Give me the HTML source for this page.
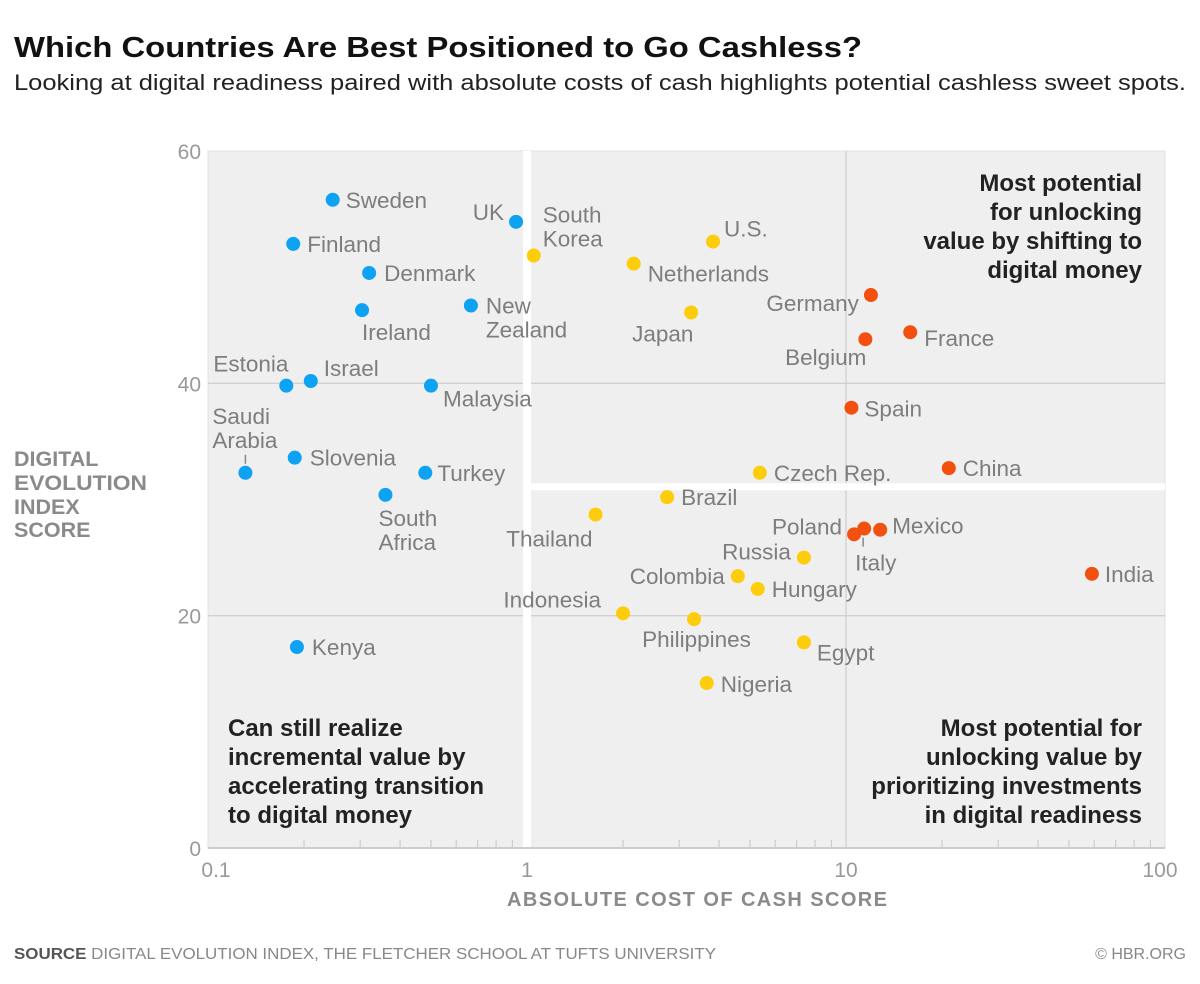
<!DOCTYPE html>
<html><head><meta charset="utf-8"><style>
body{margin:0;background:#fff;width:1200px;height:979px;overflow:hidden;font-family:"Liberation Sans",sans-serif}
</style></head><body>
<svg id="chart" width="1200" height="979" xmlns="http://www.w3.org/2000/svg" font-family="Liberation Sans, sans-serif">
<text x="14" y="57" font-size="29" font-weight="bold" fill="#111" textLength="848" lengthAdjust="spacingAndGlyphs">Which Countries Are Best Positioned to Go Cashless?</text>
<text x="14" y="90" font-size="22" fill="#222" textLength="1172" lengthAdjust="spacingAndGlyphs">Looking at digital readiness paired with absolute costs of cash highlights potential cashless sweet spots.</text>
<g id="plot"></g>
<g font-size="21.5" font-weight="bold" fill="#8a8a8a">
<text x="14" y="466">DIGITAL</text><text x="14" y="490" textLength="133" lengthAdjust="spacingAndGlyphs">EVOLUTION</text><text x="14" y="514">INDEX</text><text x="14" y="537">SCORE</text>
</g>
<text x="697" y="906" text-anchor="middle" font-size="20" font-weight="bold" fill="#8a8a8a" textLength="380">ABSOLUTE COST OF CASH SCORE</text>
<text x="14" y="959" font-size="16" fill="#888" textLength="702" lengthAdjust="spacingAndGlyphs"><tspan font-weight="bold" fill="#555">SOURCE</tspan> DIGITAL EVOLUTION INDEX, THE FLETCHER SCHOOL AT TUFTS UNIVERSITY</text>
<text x="1186" y="959" text-anchor="end" font-size="16" fill="#888">© HBR.ORG</text>
</svg>
<script>
const countries=["Sweden","Finland","Denmark","Ireland","New Zealand","UK","Estonia","Israel","Malaysia","Saudi Arabia","Slovenia","Turkey","South Africa","Kenya","South Korea","U.S.","Netherlands","Japan","Czech Rep.","Brazil","Thailand","Russia","Colombia","Hungary","Indonesia","Philippines","Egypt","Nigeria","Germany","Belgium","France","Spain","China","Poland","Italy","Mexico","India"];
const costScores=[0.246,0.185,0.32,0.304,0.667,0.924,0.176,0.21,0.50,0.131,0.187,0.48,0.36,0.19,1.05,3.83,2.16,3.27,5.37,2.75,1.64,7.38,4.58,5.29,2.0,3.34,7.38,3.66,11.97,11.5,15.9,10.4,21.0,10.6,11.4,12.8,59];
const digitalScores=[55.8,52.0,49.5,46.3,46.7,53.9,39.8,40.2,39.8,32.3,33.6,32.3,30.4,17.3,51.0,52.2,50.3,46.1,32.3,30.2,28.7,25.0,23.4,22.3,20.2,19.7,17.7,14.2,47.6,43.8,44.4,37.9,32.7,27.0,27.5,27.4,23.6];
const groups=["b","b","b","b","b","b","b","b","b","b","b","b","b","b","y","y","y","y","y","y","y","y","y","y","y","y","y","y","r","r","r","r","r","r","r","r","r"];
const yTicks=[0,20,40,60];
const xTicks=[0.1,1,10,100];
const xTickLabels=["0.1","1","10","100"];
// label layout: [dx, dy, anchor] relative to dot (layout, not data)
const labelLayout=[[13,8,"start"],[14,8,"start"],[15,8,"start"],[0,30,"start"],[15,8,"start"],[-12,-2,"end"],[-73,-14,"start"],[13,-5,"start"],[12,21,"start"],[-33,-49,"start"],[15,8,"start"],[12,8,"start"],[-7,31,"start"],[15,8,"start"],[9,-33,"start"],[11,-5,"start"],[14,18,"start"],[-59,29,"start"],[14,8,"start"],[14,8,"start"],[-3,32,"end"],[-13,2,"end"],[-13,8,"end"],[14,8,"start"],[-22,-6,"end"],[-52,28,"start"],[13,18,"start"],[14,9,"start"],[-12,16,"end"],[1,26,"end"],[14,14,"start"],[13,9,"start"],[14,8,"start"],[-12,0,"end"],[-9,42,"start"],[12,4,"start"],[13,8,"start"]];
const L=208,R=1165,T=151,B=848;
const xs=v=>L+(Math.log10(v)+1)*(R-L)/3;
const ys=v=>B-v*(B-T)/60;
const NS="http://www.w3.org/2000/svg";
const plot=document.getElementById("plot");
function mk(tag,attrs,parent){const e=document.createElementNS(NS,tag);for(const k in attrs)e.setAttribute(k,attrs[k]);(parent||plot).appendChild(e);return e;}
const bg=mk("rect",{x:L,y:T,width:R-L,height:B-T,fill:"#efefef",stroke:"#e2e2e2"});


yTicks.forEach(t=>{
  if(t>0&&t<60){const g=mk("line",{x1:L,x2:R,y1:ys(t),y2:ys(t),stroke:"#d0d0d0","stroke-width":1.3});
  
  }
  const tx=mk("text",{x:201,y:ys(t)+8,"text-anchor":"end","font-size":21,fill:"#999"});tx.textContent=t;
  
  
});
const g10=mk("line",{x1:xs(10),x2:xs(10),y1:T,y2:B,stroke:"#d0d0d0","stroke-width":1.3});


const wv=mk("line",{x1:xs(1),x2:xs(1),y1:T,y2:B,stroke:"#fff","stroke-width":8});


const wh=mk("line",{x1:xs(1),x2:R,y1:ys(31.1),y2:ys(31.1),stroke:"#fff","stroke-width":7});


for(let d=0;d<3;d++){for(let m=2;m<=9;m++){const v=Math.pow(10,d-1)*m;
  const tk=mk("line",{x1:xs(v),x2:xs(v),y1:B-8,y2:B,stroke:"#ccc","stroke-width":1.2});
  
  }}
const ax=mk("line",{x1:L,x2:R,y1:B,y2:B,stroke:"#ccc","stroke-width":2});


xTicks.forEach((t,i)=>{const tx=mk("text",{x:xs(t)+(i==0?8:i==3?-5:0),y:877,"text-anchor":"middle","font-size":21,fill:"#999"});tx.textContent=xTickLabels[i];
  
  });
// quadrant notes
function note(lines,x,y,anchor,name){const t=mk("text",{x:x,y:y,"text-anchor":anchor,"font-size":24,"font-weight":"bold",fill:"#222"});
  
  
  lines.forEach((s,i)=>{const sp=mk("tspan",{x:x,dy:i?29:0},t);sp.textContent=s;});}
note(["Most potential","for unlocking","value by shifting to","digital money"],1142,191,"end","quadrant-note-top-right");
note(["Can still realize","incremental value by","accelerating transition","to digital money"],228,736,"start","quadrant-note-bottom-left");
note(["Most potential for","unlocking value by","prioritizing investments","in digital readiness"],1142,736,"end","quadrant-note-bottom-right");
const colors={b:"#0ea2f2",y:"#fdcc0a",r:"#f2500f"};
// leader lines
const sa=mk("line",{x1:xs(costScores[9]),x2:xs(costScores[9]),y1:ys(digitalScores[9])-9,y2:ys(digitalScores[9])-18,stroke:"#888","stroke-width":1.5});


const it=mk("line",{x1:xs(costScores[34])-1,x2:xs(costScores[34])-1,y1:ys(digitalScores[34])+9,y2:ys(digitalScores[34])+18,stroke:"#888","stroke-width":1.5});


countries.forEach((c,i)=>{
  const cx=xs(costScores[i]),cy=ys(digitalScores[i]);
  const dot=mk("circle",{cx:cx,cy:cy,r:7,fill:colors[groups[i]]});
  
  
  const [dx,dy,an]=labelLayout[i];
  const t=mk("text",{x:cx+dx,y:cy+dy,"text-anchor":an,"font-size":22.5,fill:"#7d7d7d"});
  
  
  const parts=c=="New Zealand"?["New","Zealand"]:c=="South Korea"?["South","Korea"]:c=="South Africa"?["South","Africa"]:c=="Saudi Arabia"?["Saudi","Arabia"]:[c];
  parts.forEach((p,k)=>{const sp=mk("tspan",{x:cx+dx,dy:k?24:0},t);sp.textContent=p;});
});
</script>
</body></html>
